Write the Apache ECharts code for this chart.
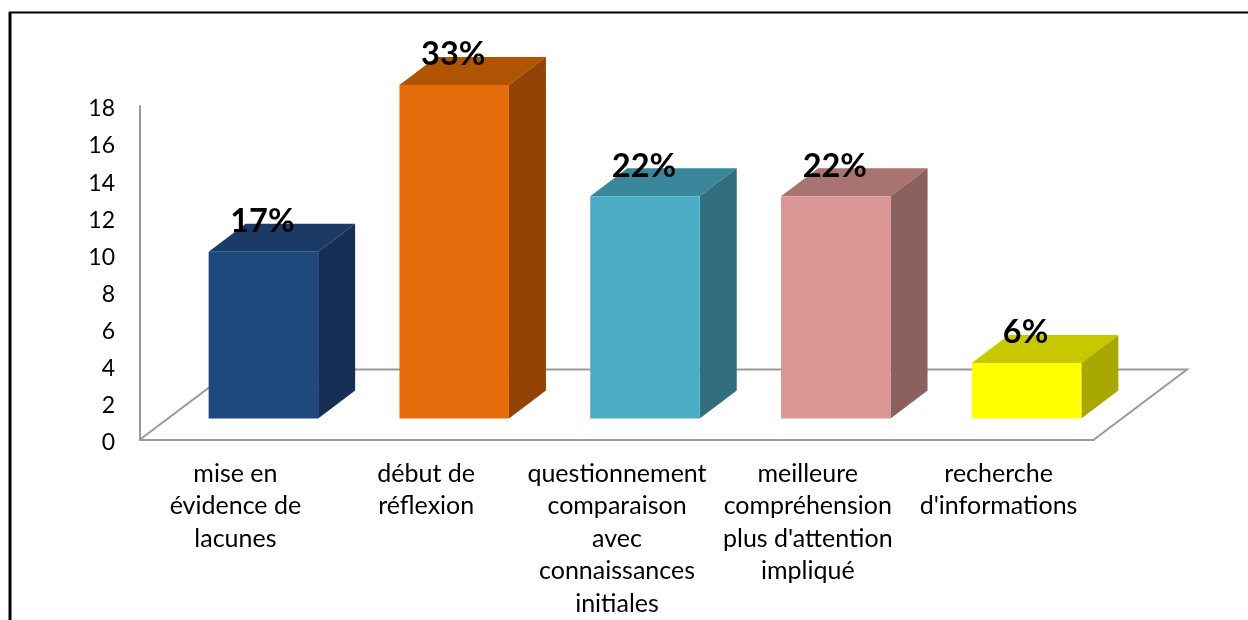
<!DOCTYPE html>
<html>
<head>
<meta charset="utf-8">
<style>html,body{margin:0;padding:0;background:#fff}#c{width:1248px;height:620px}</style>
<script src="https://cdn.jsdelivr.net/npm/echarts@6/dist/echarts.min.js"></script>
</head>
<body>
<div id="c"></div>
<script>
const categories = [
  "mise en\névidence de\nlacunes",
  "début de\nréflexion",
  "questionnement\ncomparaison\navec\nconnaissances\ninitiales",
  "meilleure\ncompréhension\nplus d'attention\nimpliqué",
  "recherche\nd'informations"
];
const values = [9, 18, 12, 12, 3];
const percentLabels = ["17%", "33%", "22%", "22%", "6%"];
const frontColors = ["#1F497D", "#E46C0A", "#4BACC6", "#D99694", "#FFFF00"];
const topColors   = ["#1B3B66", "#B05404", "#3A879C", "#A87371", "#C8C800"];
const sideColors  = ["#152F55", "#934305", "#316E80", "#8C605F", "#A8A800"];

const FONT = "Lato";
const BAR_W = 109.5, SHIFT_X = 28, SHIFT_Y = -21, DEPTH_X = 37, DEPTH_Y = -28;
const FLOOR_X = 93, FLOOR_Y = -70;
const GREY = "#999999";

function renderFloor(params, api) {
  const half = api.size([1, 0])[0] / 2;
  const first = api.coord([0, 0]);
  const last = api.coord([categories.length - 1, 0]);
  const ox = first[0] - half, rx = last[0] + half, y = first[1];
  const pts = [[ox, y], [ox + FLOOR_X, y + FLOOR_Y], [rx + FLOOR_X, y + FLOOR_Y], [rx, y]];
  return {
    type: "polyline",
    shape: { points: pts },
    style: { stroke: GREY, lineWidth: 2, fill: null },
    silent: true
  };
}

function renderBar(params, api) {
  const i = api.value(0);
  const base = api.coord([i, 0]);
  const top = api.coord([i, api.value(1)]);
  const l = base[0] + SHIFT_X - BAR_W / 2;
  const r = l + BAR_W;
  const b = base[1] + SHIFT_Y;
  const t = top[1] + SHIFT_Y;
  const poly = (points, fill) => ({
    type: "polygon", shape: { points }, style: { fill, stroke: null }
  });
  return {
    type: "group",
    children: [
      poly([[l, t], [l + DEPTH_X, t + DEPTH_Y], [r + DEPTH_X, t + DEPTH_Y], [r, t]], topColors[i]),
      poly([[r, t], [r + DEPTH_X, t + DEPTH_Y], [r + DEPTH_X, b + DEPTH_Y], [r, b]], sideColors[i]),
      poly([[l, t], [r, t], [r, b], [l, b]], frontColors[i]),
      {
        type: "text",
        z2: 10,
        style: {
          text: percentLabels[i],
          x: (l + r) / 2 - 1,
          y: t - 30,
          fill: "#000",
          font: "bold 32.5px " + FONT,
          align: "center",
          verticalAlign: "middle"
        }
      }
    ]
  };
}

const chart = echarts.init(document.getElementById("c"), null, { renderer: "canvas" });
chart.setOption({
  animation: false,
  backgroundColor: "#fff",
  grid: { left: 140, top: 106, width: 954, height: 334 },
  xAxis: {
    type: "category",
    data: categories,
    axisTick: { show: false },
    axisLine: { lineStyle: { color: GREY, width: 2 } },
    axisLabel: {
      interval: 0, color: "#000", fontFamily: FONT, fontSize: 25,
      lineHeight: 32.5, margin: 18, hideOverlap: false
    }
  },
  yAxis: {
    type: "value",
    min: 0, max: 18, interval: 2,
    axisTick: { show: false },
    splitLine: { show: false },
    axisLine: { show: true, lineStyle: { color: GREY, width: 2 } },
    axisLabel: { color: "#000", fontFamily: FONT, fontSize: 23, margin: 25, verticalAlign: "top", lineHeight: 6 }
  },
  graphic: [
    { type: "line", shape: { x1: 10, y1: 12, x2: 10, y2: 620 }, style: { stroke: "#000", lineWidth: 3 } },
    { type: "line", shape: { x1: 9, y1: 12.5, x2: 1248, y2: 12.5 }, style: { stroke: "#000", lineWidth: 2 } }
  ],
  series: [
    {
      type: "custom", renderItem: renderFloor, data: [[0, 0]],
      encode: { x: 0, y: 1 }, clip: false, silent: true, z: 1
    },
    {
      type: "custom", renderItem: renderBar,
      data: values.map((v, i) => [i, v]),
      encode: { x: 0, y: 1 }, clip: false, silent: true, z: 5
    }
  ]
});
</script>
</body>
</html>
